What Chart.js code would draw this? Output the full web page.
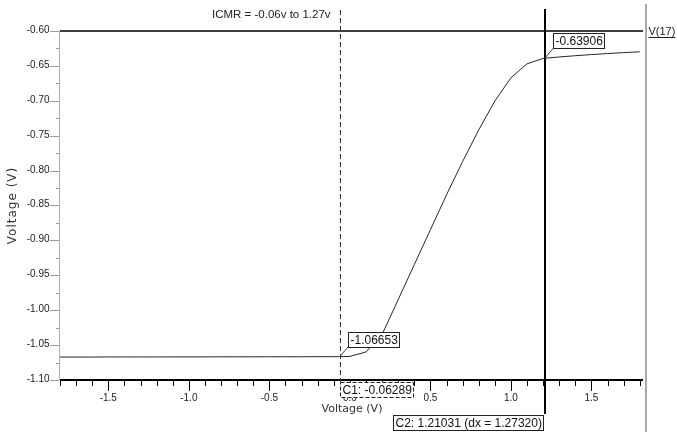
<!DOCTYPE html>
<html>
<head>
<meta charset="utf-8">
<script src="https://cdn.jsdelivr.net/npm/chart.js@4/dist/chart.umd.min.js"></script>
<style>
  html, body { margin: 0; padding: 0; background: #fff; }
  canvas { display: block; }
</style>
</head>
<body>
<canvas id="c" width="677" height="432"></canvas>
<script>
// DC sweep: input voltage (V) and output node voltage V(17) (V)
const sweepV = [-1.8, -1.7, -1.6, -1.5, -1.4, -1.3, -1.2, -1.1, -1.0, -0.9, -0.8, -0.7, -0.6, -0.5, -0.4, -0.3, -0.2, -0.1,
  -0.06289, 0.0, 0.1, 0.2, 0.3, 0.4, 0.5, 0.6, 0.7, 0.8, 0.9, 1.0, 1.1, 1.2, 1.21031, 1.3, 1.4, 1.5, 1.6, 1.7, 1.8];
const outV = [-1.0671, -1.0671, -1.0671, -1.0670, -1.0670, -1.0670, -1.0670, -1.0669, -1.0669, -1.0669, -1.0668, -1.0668,
  -1.0668, -1.0667, -1.0667, -1.0667, -1.0666, -1.0666,
  -1.06653, -1.0662, -1.0599, -1.0348, -0.9848, -0.9347, -0.8847, -0.8347, -0.7870, -0.7417, -0.7004, -0.6670, -0.6470,
  -0.6393, -0.63906, -0.6372, -0.6354, -0.6338, -0.6323, -0.6310, -0.6298];

// Cursor positions (input voltage)
const cursor1X = -0.06289;
const cursor2X = 1.21031;

// Axis ranges and tick labels
const xMin = -1.8, xMax = 1.82;
const yMin = -1.10, yMax = -0.60;
const xTickValues = [-1.5, -1.0, -0.5, 0.0, 0.5, 1.0, 1.5];
const xTickLabels = ['-1.5', '-1.0', '-0.5', '0.0', '0.5', '1.0', '1.5'];
const yTickValues = [-0.60, -0.65, -0.70, -0.75, -0.80, -0.85, -0.90, -0.95, -1.00, -1.05, -1.10];
const yTickLabels = ['-0.60', '-0.65', '-0.70', '-0.75', '-0.80', '-0.85', '-0.90', '-0.95', '-1.00', '-1.05', '-1.10'];

const traceName = 'V(17)';
const noteText = 'ICMR = -0.06v to 1.27v';
const xTitle = 'Voltage (V)';
const yTitle = 'Voltage (V)';

const LABEL_FONT = '"Liberation Sans", Arial, sans-serif';
const TITLE_FONT = '"DejaVu Sans", Verdana, sans-serif';

function valueBox(ctx, text, left, top, dashed) {
  ctx.font = '12px ' + LABEL_FONT;
  const w = Math.round(ctx.measureText(text).width) + 5;
  const h = 16;
  ctx.fillStyle = '#fff';
  ctx.fillRect(left, top, w, h);
  ctx.strokeStyle = '#222';
  ctx.lineWidth = 1;
  ctx.setLineDash(dashed ? [4, 2] : []);
  ctx.strokeRect(left + 0.5, top + 0.5, w - 1, h - 1);
  ctx.setLineDash([]);
  ctx.fillStyle = '#111';
  ctx.textAlign = 'left';
  ctx.textBaseline = 'middle';
  ctx.fillText(text, left + 2.5, top + h / 2 + 0.5);
  return w;
}

const overlay = {
  id: 'overlay',
  afterDraw(chart) {
    const ctx = chart.ctx;
    const xs = chart.scales.x, ys = chart.scales.y;
    const a = chart.chartArea;
    ctx.save();

    // top border at the upper limit
    ctx.strokeStyle = '#000';
    ctx.lineWidth = 1.5;
    ctx.beginPath();
    ctx.moveTo(a.left, ys.getPixelForValue(yMax));
    ctx.lineTo(a.right, ys.getPixelForValue(yMax));
    ctx.stroke();

    // y axis line and ticks
    ctx.strokeStyle = '#b0b0b0';
    ctx.lineWidth = 1;
    ctx.beginPath();
    ctx.moveTo(a.left - 0.5, a.top);
    ctx.lineTo(a.left - 0.5, a.bottom);
    ctx.stroke();
    ctx.font = '10px ' + LABEL_FONT;
    ctx.textAlign = 'right';
    ctx.textBaseline = 'middle';
    yTickValues.forEach((v, i) => {
      const py = Math.round(ys.getPixelForValue(v)) + 0.5;
      ctx.strokeStyle = '#9a9a9a';
      ctx.beginPath();
      ctx.moveTo(a.left - 10, py);
      ctx.lineTo(a.left - 1, py);
      ctx.stroke();
      if (i < yTickValues.length - 1) {
        const pm = Math.round(ys.getPixelForValue(v - 0.025)) + 0.5;
        ctx.beginPath();
        ctx.moveTo(a.left - 4, pm);
        ctx.lineTo(a.left - 1, pm);
        ctx.stroke();
      }
      ctx.fillStyle = '#222';
      ctx.fillText(yTickLabels[i], a.left - 10.5, py - 1);
    });

    // x axis line with minor (0.1) and major ticks
    ctx.strokeStyle = '#000';
    ctx.lineWidth = 2;
    ctx.beginPath();
    ctx.moveTo(a.left, a.bottom);
    ctx.lineTo(a.right, a.bottom);
    ctx.stroke();
    ctx.lineWidth = 1;
    for (let k = -18; k <= 18; k++) {
      const px = Math.round(xs.getPixelForValue(k / 10)) + 0.5;
      const major = k % 5 === 0;
      ctx.beginPath();
      ctx.moveTo(px, a.bottom + 1);
      ctx.lineTo(px, a.bottom + (major ? 11 : 6));
      ctx.stroke();
    }
    ctx.font = '10px ' + LABEL_FONT;
    ctx.textAlign = 'center';
    ctx.textBaseline = 'middle';
    ctx.fillStyle = '#222';
    xTickValues.forEach((v, i) => {
      ctx.fillText(xTickLabels[i], xs.getPixelForValue(v), a.bottom + 18);
    });

    // frame divider at the right
    ctx.strokeStyle = '#a8a8a8';
    ctx.lineWidth = 2;
    ctx.beginPath();
    ctx.moveTo(a.right + 3, 4);
    ctx.lineTo(a.right + 3, chart.height);
    ctx.stroke();

    // trace name
    ctx.font = '11px ' + LABEL_FONT;
    ctx.textAlign = 'left';
    ctx.textBaseline = 'alphabetic';
    ctx.fillStyle = '#222';
    const tnX = a.right + 5.5;
    ctx.fillText(traceName, tnX, 35);
    const tnW = ctx.measureText(traceName).width;
    ctx.strokeStyle = '#222';
    ctx.lineWidth = 1;
    ctx.beginPath();
    ctx.moveTo(tnX, 37.5);
    ctx.lineTo(tnX + tnW, 37.5);
    ctx.stroke();

    // annotation text
    ctx.font = '11.5px ' + LABEL_FONT;
    ctx.textAlign = 'left';
    ctx.textBaseline = 'middle';
    ctx.fillStyle = '#222';
    ctx.fillText(noteText, 212, 15);

    // axis titles
    ctx.font = '11px ' + TITLE_FONT;
    ctx.textAlign = 'center';
    ctx.textBaseline = 'middle';
    ctx.fillStyle = '#333';
    ctx.fillText(xTitle, 352, 409);
    ctx.save();
    ctx.translate(13, 205.5);
    ctx.rotate(-Math.PI / 2);
    ctx.font = '12px ' + TITLE_FONT;
    ctx.letterSpacing = '1px';
    ctx.fillText(yTitle, 0, 0);
    ctx.restore();

    // cursors
    const c1y = outV[sweepV.indexOf(cursor1X)];
    const c2y = outV[sweepV.indexOf(cursor2X)];
    const p1x = xs.getPixelForValue(cursor1X), p1y = ys.getPixelForValue(c1y);
    const p2x = xs.getPixelForValue(cursor2X), p2y = ys.getPixelForValue(c2y);

    // cursor 1: dashed
    ctx.strokeStyle = '#333';
    ctx.lineWidth = 1;
    ctx.setLineDash([5, 3]);
    ctx.beginPath();
    ctx.moveTo(Math.round(p1x) + 0.5, 10);
    ctx.lineTo(Math.round(p1x) + 0.5, a.bottom + 2);
    ctx.stroke();
    ctx.setLineDash([]);

    // cursor 2: solid
    ctx.strokeStyle = '#000';
    ctx.lineWidth = 2;
    ctx.beginPath();
    ctx.moveTo(Math.round(p2x), 9);
    ctx.lineTo(Math.round(p2x), 414);
    ctx.stroke();

    // value markers with leader lines
    ctx.strokeStyle = '#444';
    ctx.lineWidth = 1;
    ctx.beginPath();
    ctx.moveTo(p1x, p1y);
    ctx.lineTo(p1x + 8.5, p1y - 10);
    ctx.moveTo(p2x, p2y);
    ctx.lineTo(p2x + 8.5, p2y - 10);
    ctx.stroke();
    valueBox(ctx, c1y.toFixed(5), Math.round(p1x + 8.5), Math.round(p1y - 25));
    valueBox(ctx, c2y.toFixed(5), Math.round(p2x + 8.5), Math.round(p2y - 25));

    // cursor readouts
    valueBox(ctx, 'C1: ' + cursor1X.toFixed(5), Math.round(p1x), Math.round(a.bottom + 2), true);
    ctx.font = '12px ' + LABEL_FONT;
    const c2Text = 'C2: ' + cursor2X.toFixed(5) + ' (dx = ' + (cursor2X - cursor1X).toFixed(5) + ')';
    const c2W = Math.round(ctx.measureText(c2Text).width) + 5;
    valueBox(ctx, c2Text, Math.round(p2x) - 1 - c2W, 415);

    ctx.restore();
  }
};

new Chart(document.getElementById('c'), {
  type: 'line',
  data: {
    datasets: [{
      label: traceName,
      data: sweepV.map((v, i) => ({ x: v, y: outV[i] })),
      borderColor: '#262626',
      borderWidth: 1,
      pointRadius: 0,
      tension: 0,
      fill: false
    }]
  },
  options: {
    responsive: false,
    animation: false,
    devicePixelRatio: 1,
    events: [],
    layout: { padding: { left: 60, right: 34, top: 31, bottom: 52 } },
    plugins: { legend: { display: false }, tooltip: { enabled: false } },
    scales: {
      x: { type: 'linear', min: xMin, max: xMax, display: false },
      y: { type: 'linear', min: yMin, max: yMax, display: false }
    }
  },
  plugins: [overlay]
});
</script>
</body>
</html>
